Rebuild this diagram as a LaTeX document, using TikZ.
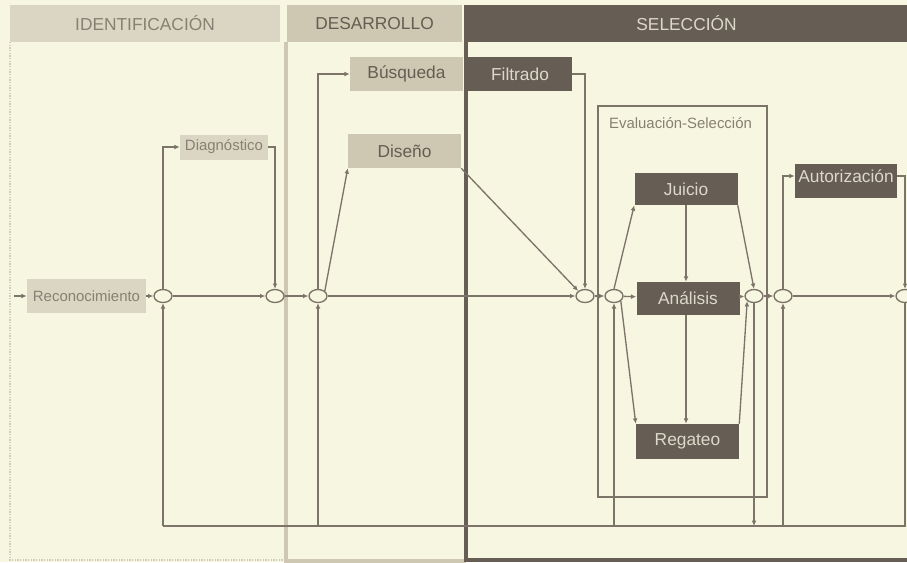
\documentclass[tikz,border=0pt]{standalone}
\usepackage{fontspec}
\setmainfont{Liberation Sans}
\usetikzlibrary{arrows.meta,shapes.geometric,calc}

\definecolor{paper}{HTML}{F7F6E0}
\definecolor{tanfill}{HTML}{CEC7B1}
\definecolor{darkfill}{HTML}{665D55}
\definecolor{lighttext}{HTML}{DED8CA}
\definecolor{tantext}{HTML}{655D53}
\definecolor{wire}{HTML}{7C7469}
\definecolor{grain}{HTML}{DBD6C3}
\definecolor{graintext}{HTML}{878074}
\definecolor{faint}{HTML}{D2CDBA}

\begin{document}
\begin{tikzpicture}[x=0.75pt,y=-0.75pt,
  wire/.style={draw=wire, line width=1pt},
  arr/.style={wire, -{Latex[length=4pt,width=3.6pt]}},
  junc/.style={ellipse, draw=wire, line width=1pt, fill=paper,
    minimum width=13.5pt, minimum height=9.75pt, inner sep=0pt},
  bigtext/.style={font=\fontsize{13}{15}\selectfont},
  smalltext/.style={font=\fontsize{11.2}{13}\selectfont},
  hdr/.style={bigtext, inner sep=0pt, minimum height=27.75pt},
  tanbox/.style={bigtext, fill=tanfill, text=tantext, inner sep=0pt,
    minimum width=84.75pt, minimum height=25.5pt},
  darkbox/.style={bigtext, fill=darkfill, text=lighttext, inner sep=0pt,
    minimum width=77.25pt, minimum height=25.5pt},
  grainbox/.style={smalltext, fill=grain, text=graintext, inner sep=0pt},
]
% page and paper
\useasboundingbox (0,0) rectangle (907,562);
\fill[paper] (0,0) rectangle (907,562);

% column headers
\node[hdr, fill=grain, text=graintext, minimum width=202.5pt] (hId) at (145,23.5) {IDENTIFICACIÓN};
\node[hdr, fill=tanfill, text=tantext, minimum width=131.25pt] (hDes) at (374.5,23.5) {DESARROLLO};
\node[hdr, fill=darkfill, text=lighttext, minimum width=330.75pt] (hSel) at (686.5,23.5) {SELECCIÓN};

% column borders
\draw[faint, densely dotted, line width=1pt] (10,42) -- (10,560) -- (286,560);
\draw[tanfill, line width=3pt] (286,42) -- (286,560.5) -- (466,560.5);
\draw[darkfill, line width=3.5pt] (466,5) -- (466,560) -- (907,560);

% evaluation frame
\draw[wire] (598,106) rectangle (767,497);
\node[smalltext, text=graintext] (evalLabel) at (680.5,123) {Evaluación-Selección};

% activity boxes
\node[grainbox, minimum width=89.25pt, minimum height=25.5pt] (recon) at (86.5,296) {Reconocimiento};
\node[grainbox, minimum width=66pt, minimum height=18.75pt] (diag) at (224,147) {Diagnóstico};
\node[tanbox] (busq) at (406.5,74) {Búsqueda};
\node[tanbox] (dis) at (404.5,151) {Diseño};
\node[darkbox, minimum width=78pt] (filt) at (520,74) {Filtrado};
\node[darkbox, minimum height=24pt] (juicio) at (686,189) {Juicio};
\node[darkbox, minimum height=24.75pt] (analisis) at (688,298.5) {Análisis};
\node[darkbox, minimum height=26.25pt] (regateo) at (687.5,441.5) {Regateo};
\node[darkbox, minimum width=76.5pt, text depth=7pt] (autor) at (846,181) {Autorización};

% junctions
\node[junc] (J1) at (163,296) {};
\node[junc] (J2) at (275,296) {};
\node[junc] (J3) at (318,296) {};
\node[junc] (J4) at (585,296) {};
\node[junc] (J5) at (614,296) {};
\node[junc] (J6) at (754,296) {};
\node[junc] (J7) at (783,296) {};
\node[junc] (J8) at (905,296) {};

% main flow
\coordinate (inS) at (14,296);
\draw[arr] (inS) -- (recon);
\draw[arr] (recon) -- (J1);
\draw[arr] (J1) -- (J2);
\draw[arr] (J2) -- (J3);
\draw[arr] (J3) -- (J4);
\draw[arr] (J4) -- (J5);
\draw[arr] (J5) -- (analisis);
\draw[arr] (analisis) -- (J6);
\draw[arr] (J6) -- (J7);
\draw[arr] (J7) -- (J8);

% branches
\draw[arr] (J1.north) |- (diag.west);
\draw[arr] (diag.east) -| (J2.north);
\draw[arr] (J3.north) |- (busq.west);
\draw[arr] (J3.north east) -- (dis.south west);
\draw[arr] (dis.south east) -- (J4.north west);
\draw[arr] (filt.east) -| (J4.north);
\draw[arr] (J5.north) -- (juicio.south west);
\draw[arr] (juicio.south) -- (juicio.south |- analisis.north);
\draw[arr] (juicio.south east) -- (J6.north);
\draw[arr] (analisis.south -| juicio.south) -- (juicio.south |- regateo.north);
\draw[arr] (J5.south east) -- (regateo.north west);
\draw[arr] (regateo.north east) -- (J6.south west);
\draw[arr] (J7.north) |- ($(autor.west)+(0,-5)$);
\draw[arr] ($(autor.east)+(0,-5)$) -| (J8.north);

% feedback bus
\coordinate (bus) at (0,526);
\draw[wire] (J8.south) |- (J1.south |- bus);
\draw[arr] (J6.south) -- (J6.south |- bus);
\draw[arr] (J1.south |- bus) -- (J1.south);
\draw[arr] (J3.south |- bus) -- (J3.south);
\draw[arr] (J5.south |- bus) -- (J5.south);
\draw[arr] (J7.south |- bus) -- (J7.south);
\end{tikzpicture}
\end{document}
